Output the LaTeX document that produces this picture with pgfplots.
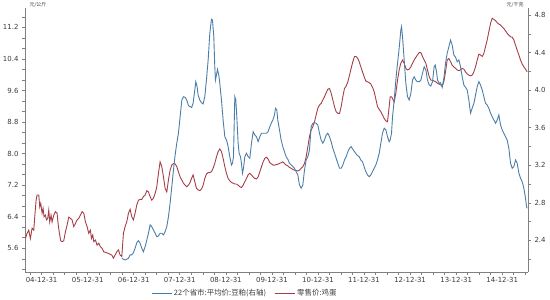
\documentclass[border=0pt]{standalone}
\usepackage{pgfplots}
\pgfplotsset{compat=1.18}
\usepackage{fontspec}
\setmainfont{DejaVu Sans}
\newfontfamily\cjk{Noto Sans CJK SC}
\definecolor{serblue}{RGB}{74,126,168}
\definecolor{serred}{RGB}{164,62,70}
\definecolor{axgray}{RGB}{128,128,128}
\definecolor{txtgray}{RGB}{60,60,60}
\begin{document}
\begin{tikzpicture}
\path[use as bounding box] (0,0) rectangle (550bp,300bp);
\pgfplotsset{
  common/.style={
    at={(25bp,28bp)}, anchor=south west, scale only axis,
    width=503bp, height=264bp,
    xmin=2004.64, xmax=2015.56,
    tick align=outside,
    major tick length=3bp, minor tick length=3bp,
    tick style={axgray, line width=0.6pt},
    axis line style={axgray, line width=1pt},
    /pgf/number format/assume math mode=true,
    ticklabel style={font=\fontsize{7}{8}\selectfont, text=txtgray},
    yticklabel style={/pgf/number format/fixed, /pgf/number format/fixed zerofill, /pgf/number format/precision=1},
  }
}
\begin{axis}[common,
  axis x line*=bottom, axis y line*=left,
  ymin=5.0, ymax=11.69,
  ytick={5.6,6.4,7.2,8.0,8.8,9.6,10.4,11.2},
  minor ytick={5.0667,5.3333,5.8667,6.1333,6.6667,6.9333,7.4667,7.7333,8.2667,8.5333,9.0667,9.3333,9.8667,10.1333,10.6667,10.9333,11.4667},
  xtick={2005,2006,2007,2008,2009,2010,2011,2012,2013,2014,2015},
  xticklabels={04-12-31,05-12-31,06-12-31,07-12-31,08-12-31,09-12-31,10-12-31,11-12-31,12-12-31,13-12-31,14-12-31},
  minor xtick={2004.75,2005,...,2015.5},
  xticklabel style={yshift=1bp},
]
\addplot[serred, line width=0.9pt, no markers] coordinates {
(2004.649,5.85) (2004.685,5.98) (2004.721,6.06) (2004.757,5.85) (2004.794,6.11) (2004.830,6.06) (2004.852,6.40) (2004.881,6.82) (2004.902,6.95) (2004.939,6.95) (2004.960,6.65) (2004.982,6.74) (2005.011,6.49) (2005.033,6.61) (2005.054,6.40) (2005.083,6.44) (2005.105,6.32) (2005.134,6.36) (2005.156,6.57) (2005.177,6.27) (2005.206,6.44) (2005.228,6.27) (2005.264,6.44) (2005.300,6.53) (2005.337,6.49) (2005.358,6.23) (2005.387,5.98) (2005.416,5.79) (2005.445,5.77) (2005.481,5.79) (2005.518,6.02) (2005.554,6.19) (2005.590,6.39) (2005.626,6.36) (2005.662,6.32) (2005.699,6.15) (2005.735,6.23) (2005.771,6.32) (2005.807,6.36) (2005.843,6.44) (2005.879,6.53) (2005.916,6.49) (2005.952,6.27) (2005.988,6.15) (2006.024,5.98) (2006.060,6.06) (2006.082,5.85) (2006.111,5.94) (2006.133,5.77) (2006.169,5.81) (2006.205,5.68) (2006.241,5.73) (2006.278,5.64) (2006.314,5.60) (2006.350,5.51) (2006.386,5.50) (2006.451,5.47) (2006.524,5.43) (2006.560,5.35) (2006.596,5.43) (2006.632,5.51) (2006.668,5.56) (2006.705,5.43) (2006.741,5.39) (2006.777,5.98)
(2006.813,6.15) (2006.849,6.27) (2006.886,6.49) (2006.922,6.59) (2006.958,6.40) (2006.994,6.32) (2007.030,6.49) (2007.067,6.70) (2007.103,6.82) (2007.139,6.84) (2007.175,6.84) (2007.211,6.91) (2007.248,6.95) (2007.284,7.06) (2007.320,7.03) (2007.356,6.91) (2007.392,6.82) (2007.428,6.87) (2007.465,6.99) (2007.501,7.16) (2007.537,7.50) (2007.573,7.79) (2007.610,7.67) (2007.646,7.41) (2007.682,7.12) (2007.718,7.03) (2007.754,7.33) (2007.790,7.58) (2007.827,7.71) (2007.863,7.75) (2007.899,7.74) (2007.935,7.67) (2007.971,7.54) (2008.008,7.41) (2008.044,7.33) (2008.080,7.25) (2008.116,7.20) (2008.152,7.16) (2008.188,7.20) (2008.225,7.27) (2008.254,7.37) (2008.290,7.46) (2008.326,7.29) (2008.362,7.12) (2008.398,7.08) (2008.435,7.06) (2008.471,7.10) (2008.507,7.20) (2008.543,7.37) (2008.579,7.48) (2008.616,7.52) (2008.652,7.52) (2008.688,7.54) (2008.724,7.63) (2008.760,7.75) (2008.797,7.92) (2008.833,8.05) (2008.869,8.12) (2008.905,8.05) (2008.941,7.88) (2008.978,7.67) (2009.014,7.50) (2009.050,7.37) (2009.086,7.31) (2009.122,7.27) (2009.159,7.25) (2009.195,7.23) (2009.231,7.23) (2009.267,7.20) (2009.303,7.16) (2009.339,7.14) (2009.376,7.20) (2009.412,7.29) (2009.448,7.37) (2009.484,7.46) (2009.520,7.50) (2009.557,7.46) (2009.593,7.41) (2009.629,7.37) (2009.665,7.36) (2009.701,7.41) (2009.738,7.54) (2009.774,7.67) (2009.810,7.79) (2009.846,7.88) (2009.882,7.91) (2009.918,7.86) (2009.955,7.77) (2009.991,7.74) (2010.027,7.71) (2010.063,7.71) (2010.128,7.73) (2010.201,7.77) (2010.237,7.79) (2010.273,7.75) (2010.309,7.71) (2010.346,7.69) (2010.382,7.65) (2010.418,7.63) (2010.454,7.60) (2010.490,7.58) (2010.527,7.57) (2010.563,7.56) (2010.599,7.58) (2010.635,7.63) (2010.671,7.67) (2010.708,7.75) (2010.744,7.92) (2010.780,8.17) (2010.816,8.43) (2010.852,8.60) (2010.888,8.68) (2010.925,8.81) (2010.961,8.98) (2010.997,9.15) (2011.033,9.23) (2011.069,9.27) (2011.106,9.36) (2011.142,9.44) (2011.178,9.54) (2011.214,9.63) (2011.250,9.65) (2011.287,9.53) (2011.323,9.36) (2011.359,9.19) (2011.395,9.06) (2011.431,9.02) (2011.468,9.02) (2011.504,9.19) (2011.540,9.44) (2011.576,9.65) (2011.612,9.71) (2011.649,9.82) (2011.685,9.99) (2011.721,10.16) (2011.757,10.33) (2011.793,10.46) (2011.829,10.46) (2011.866,10.41) (2011.895,10.33) (2011.931,10.20) (2011.967,10.07) (2012.003,9.95) (2012.039,9.84) (2012.076,9.82) (2012.112,9.80) (2012.148,9.76) (2012.184,9.68) (2012.220,9.57) (2012.257,9.38) (2012.293,9.19) (2012.329,9.12) (2012.365,9.06) (2012.401,8.98) (2012.438,8.89) (2012.474,8.83) (2012.510,8.81) (2012.546,9.19) (2012.568,9.44) (2012.597,9.44) (2012.633,9.36) (2012.655,9.31) (2012.691,9.53) (2012.727,9.86) (2012.763,10.12) (2012.799,10.29) (2012.836,10.37) (2012.872,10.29) (2012.908,10.16) (2012.944,10.12) (2012.980,10.14) (2013.017,10.20) (2013.053,10.29) (2013.089,10.37) (2013.125,10.44) (2013.161,10.50) (2013.198,10.56) (2013.234,10.56) (2013.270,10.46) (2013.306,10.37) (2013.342,10.29) (2013.378,10.12) (2013.415,9.95) (2013.451,9.86) (2013.487,9.86) (2013.523,9.84) (2013.559,9.82) (2013.596,9.78) (2013.632,9.76) (2013.668,9.74) (2013.697,9.71) (2013.733,9.82) (2013.769,10.07) (2013.806,10.37) (2013.842,10.41) (2013.878,10.33) (2013.914,10.24) (2013.950,10.20) (2013.987,10.16) (2014.023,10.12) (2014.059,10.10) (2014.095,10.12) (2014.131,10.16) (2014.167,10.14) (2014.204,10.07) (2014.240,10.02) (2014.276,9.99) (2014.312,9.97) (2014.348,9.99) (2014.385,10.07) (2014.421,10.20) (2014.457,10.37) (2014.493,10.52) (2014.529,10.50) (2014.566,10.46) (2014.602,10.54) (2014.638,10.71) (2014.674,10.88) (2014.710,11.09) (2014.747,11.30) (2014.783,11.43) (2014.819,11.40) (2014.855,11.37) (2014.891,11.32) (2014.927,11.28) (2014.964,11.26) (2015.000,11.21) (2015.036,11.17) (2015.072,11.11) (2015.108,11.05) (2015.144,11.00) (2015.181,10.96) (2015.217,10.95) (2015.253,10.88) (2015.289,10.75) (2015.325,10.62) (2015.362,10.50) (2015.398,10.37) (2015.434,10.27) (2015.470,10.20) (2015.506,10.14) (2015.542,10.07)
};
\end{axis}
\begin{axis}[common,
  axis x line=none, axis y line*=right,
  ymin=2.063, ymax=4.875,
  ytick={2.4,2.8,3.2,3.6,4.0,4.4,4.8},
  minor ytick={2.2,2.6,3.0,3.4,3.8,4.2,4.6},
  legend style={at={(0.437,-0.08)}, anchor=center, draw=none, fill=none,
    font=\cjk\fontsize{7.5}{8}\selectfont, text=txtgray, inner sep=0pt,
    /tikz/every even column/.append style={column sep=6bp}},
  legend columns=2,
  legend cell align=left,
  legend image code/.code={\draw[#1] (0bp,0bp) -- (20bp,0bp);},
]
\addplot[serblue, line width=0.9pt, no markers] coordinates {
(2006.741,2.209) (2006.777,2.199) (2006.813,2.191) (2006.849,2.199) (2006.886,2.209) (2006.922,2.245) (2006.958,2.245) (2006.994,2.269) (2007.030,2.316) (2007.067,2.376) (2007.103,2.397) (2007.139,2.369) (2007.175,2.316) (2007.211,2.280) (2007.248,2.333) (2007.284,2.404) (2007.320,2.476) (2007.356,2.564) (2007.392,2.546) (2007.428,2.511) (2007.465,2.476) (2007.501,2.439) (2007.537,2.447) (2007.573,2.476) (2007.610,2.476) (2007.646,2.458) (2007.682,2.493) (2007.718,2.546) (2007.754,2.652) (2007.790,2.795) (2007.827,2.972) (2007.863,3.150) (2007.899,3.309) (2007.935,3.434) (2007.971,3.541) (2008.008,3.717) (2008.044,3.895) (2008.080,3.930) (2008.116,3.924) (2008.152,3.895)
(2008.188,3.835) (2008.225,3.824) (2008.258,3.815) (2008.290,3.860) (2008.326,4.002) (2008.348,4.090) (2008.377,4.037) (2008.398,3.948) (2008.435,3.895) (2008.471,3.866) (2008.507,3.853) (2008.543,3.930) (2008.579,4.108) (2008.616,4.321) (2008.652,4.606) (2008.688,4.755) (2008.710,4.747) (2008.739,4.569) (2008.760,4.250) (2008.775,4.108) (2008.797,4.161) (2008.818,4.222) (2008.847,4.161) (2008.869,4.073) (2008.905,3.895) (2008.941,3.682) (2008.978,3.504) (2009.014,3.469) (2009.050,3.398) (2009.086,3.291) (2009.122,3.203) (2009.144,3.221) (2009.166,3.291) (2009.195,3.930) (2009.217,3.895) (2009.238,3.717) (2009.267,3.434) (2009.289,3.328) (2009.318,3.291) (2009.339,3.221) (2009.361,3.115) (2009.383,3.168) (2009.412,3.291) (2009.448,3.328) (2009.484,3.291) (2009.520,3.274) (2009.557,3.434) (2009.593,3.558) (2009.629,3.522) (2009.665,3.504) (2009.701,3.451) (2009.738,3.504) (2009.774,3.541) (2009.810,3.541) (2009.846,3.541) (2009.882,3.541) (2009.918,3.558) (2009.955,3.611) (2009.991,3.653) (2010.020,3.682) (2010.056,3.735) (2010.078,3.807) (2010.107,3.789) (2010.128,3.682) (2010.165,3.576) (2010.201,3.469) (2010.237,3.398) (2010.273,3.345) (2010.309,3.291) (2010.346,3.264) (2010.382,3.221) (2010.418,3.203) (2010.454,3.185) (2010.490,3.168) (2010.527,3.132) (2010.563,3.096) (2010.599,2.990) (2010.635,2.955) (2010.671,2.990) (2010.708,3.150) (2010.744,3.256) (2010.780,3.291) (2010.816,3.363) (2010.852,3.611) (2010.888,3.647) (2010.925,3.653) (2010.961,3.647) (2010.997,3.629) (2011.033,3.541) (2011.069,3.469) (2011.106,3.434) (2011.142,3.469) (2011.178,3.522) (2011.214,3.541) (2011.250,3.504) (2011.287,3.451) (2011.323,3.381) (2011.359,3.328) (2011.395,3.274) (2011.431,3.221) (2011.468,3.168) (2011.504,3.168) (2011.540,3.203) (2011.576,3.256) (2011.612,3.291) (2011.649,3.345) (2011.685,3.381) (2011.721,3.398) (2011.757,3.370) (2011.793,3.345) (2011.829,3.320) (2011.866,3.300) (2011.895,3.291) (2011.931,3.256) (2011.967,3.238) (2012.003,3.185) (2012.039,3.132) (2012.076,3.096) (2012.112,3.078) (2012.148,3.096) (2012.184,3.132) (2012.220,3.168) (2012.257,3.203) (2012.293,3.256) (2012.329,3.328) (2012.365,3.434) (2012.401,3.541) (2012.438,3.594) (2012.474,3.576) (2012.510,3.504) (2012.546,3.451) (2012.568,3.469) (2012.597,3.541) (2012.619,3.717) (2012.655,3.895) (2012.691,4.108) (2012.727,4.286) (2012.763,4.446) (2012.799,4.641) (2012.814,4.676) (2012.836,4.569) (2012.872,4.321) (2012.908,4.073) (2012.944,3.930) (2012.980,3.895) (2013.017,3.967) (2013.053,4.108) (2013.089,4.143) (2013.125,4.108) (2013.161,4.090) (2013.198,4.090) (2013.234,4.108) (2013.270,4.180) (2013.306,4.250) (2013.342,4.215) (2013.378,4.108) (2013.415,4.055) (2013.451,4.044) (2013.487,4.090) (2013.523,4.250) (2013.545,4.268) (2013.574,4.197) (2013.596,4.108) (2013.632,4.073) (2013.661,4.080) (2013.697,4.030) (2013.733,4.126) (2013.769,4.286) (2013.806,4.393) (2013.842,4.463) (2013.878,4.534) (2013.914,4.481) (2013.950,4.374) (2013.987,4.350) (2014.023,4.303) (2014.059,4.321) (2014.095,4.250) (2014.131,4.143) (2014.167,4.055) (2014.204,4.030) (2014.240,4.002) (2014.276,3.895) (2014.312,3.754) (2014.348,3.807) (2014.385,3.860) (2014.421,3.948) (2014.457,4.037) (2014.493,4.090) (2014.529,4.055) (2014.566,4.002) (2014.602,3.930) (2014.638,3.860) (2014.674,3.842) (2014.710,3.807) (2014.747,3.754) (2014.783,3.717) (2014.819,3.682) (2014.855,3.647) (2014.891,3.682) (2014.927,3.735) (2014.964,3.629) (2015.000,3.576) (2015.036,3.541) (2015.072,3.504) (2015.108,3.469) (2015.144,3.381) (2015.181,3.221) (2015.217,3.168) (2015.253,3.185) (2015.289,3.256) (2015.325,3.221) (2015.362,3.115) (2015.398,3.061) (2015.434,3.025) (2015.470,2.955) (2015.506,2.848) (2015.528,2.759) (2015.542,2.742)
};
\addlegendentry{22个省市:平均价:豆粕(右轴)}
\addlegendimage{serred, line width=0.9pt}
\addlegendentry{零售价:鸡蛋}
\end{axis}
\node[anchor=west, font=\cjk\fontsize{5}{5}\selectfont, text=txtgray] at (26bp,295bp) {元/公斤};
\node[anchor=east, font=\cjk\fontsize{5}{5}\selectfont, text=txtgray] at (527bp,295bp) {元/千克};
\end{tikzpicture}
\end{document}
